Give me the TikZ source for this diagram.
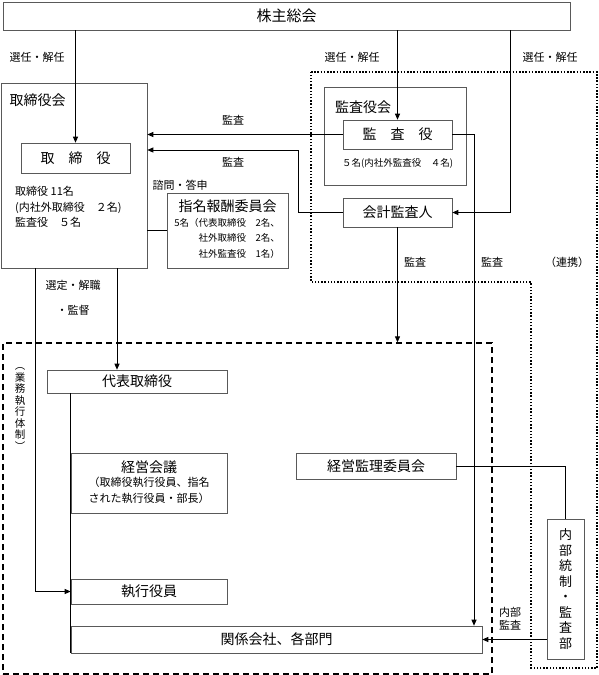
\documentclass[tikz,border=0pt]{standalone}
\usepackage{fontspec}
\setmainfont{Noto Sans CJK JP}
\usetikzlibrary{positioning,arrows.meta,calc}

\newcommand{\bigtxt}{\fontsize{14}{16}\selectfont}
\newcommand{\midtxt}{\fontsize{11}{15.5}\selectfont}
\newcommand{\smalltxt}{\fontsize{9.5}{15.5}\selectfont}

\begin{document}
\begin{tikzpicture}[x=1pt, y=-1pt,
    box/.style={rectangle, draw=black!65, line width=0.6pt, inner sep=0pt, align=center, font=\bigtxt},
    arrow/.style={->, >={Triangle[length=6pt,width=5pt]}, line width=0.9pt},
    line/.style={line width=0.9pt},
    lbl/.style={inner sep=0pt, font=\midtxt}]

    \useasboundingbox (0,0) rectangle (599,675);

    % Top
    \node[box, minimum width=567pt, minimum height=28pt, font=\fontsize{15}{17}\selectfont] (shareholders) at (286.5,16) {株主総会};

    % Board of directors
    \node[box, minimum width=146pt, minimum height=185pt] (board) at (74,175.5) {};
    \node[lbl, font=\bigtxt] (boardtitle) at (37.5,100) {取締役会};
    \node[box, minimum width=109pt, minimum height=30pt] (director) at (75.5,158) {取　締　役};
    \node[lbl, align=left, anchor=west] (boardinfo) at (15,207) {取締役 11名\\(内社外取締役　２名)\\監査役　５名};

    % Nomination committee
    \node[box, minimum width=121pt, minimum height=75pt] (nomination) at (227.5,230.5) {};
    \node[lbl, font=\bigtxt] (nomtitle) at (227.5,206) {指名報酬委員会};
    \node[lbl, font=\smalltxt, align=right, anchor=north east] (nominfo) at (280,218) {5名（代表取締役　2名、\\社外取締役　2名、\\社外監査役　1名）};

    % Audit side
    \node[box, minimum width=142pt, minimum height=98pt] (auditboard) at (395,136) {};
    \node[lbl, font=\bigtxt] (auditboardtitle) at (363,107) {監査役会};
    \node[box, minimum width=109pt, minimum height=29pt] (auditor) at (397.5,134.5) {監　査　役};
    \node[lbl, font=\smalltxt] (auditorinfo) at (397.5,163) {５名(内社外監査役　４名)};
    \node[box, minimum width=109pt, minimum height=29pt] (accountant) at (397.5,212.5) {会計監査人};

    % Execution frame
    \node[rectangle, draw, dash pattern=on 6pt off 4pt, line width=1.3pt, minimum width=489pt, minimum height=331pt] (execframe) at (247.5,508.5) {};
    \node[lbl, font=\fontsize{10.5}{11.5}\selectfont, align=center] (execlabel) at (20,409) {︵\\業\\務\\執\\行\\体\\制\\︶};

    \node[box, minimum width=180pt, minimum height=23pt] (ceo) at (137,381.5) {代表取締役};
    \node[box, minimum width=156pt, minimum height=60pt] (meeting) at (149,483) {};
    \node[lbl, font=\bigtxt] (meetingtitle) at (149,467) {経営会議};
    \node[lbl, align=center, anchor=north] (meetinginfo) at (149,477) {（取締役執行役員、指名\\された執行役員・部長）};
    \node[box, minimum width=160pt, minimum height=26pt] (supervision) at (376,466) {経営監理委員会};
    \node[box, minimum width=156pt, minimum height=25pt] (officers) at (149,591.5) {執行役員};
    \node[box, minimum width=411pt, minimum height=27pt] (affiliates) at (276.5,639.5) {関係会社、各部門};
    \node[box, minimum width=37pt, minimum height=140pt, font=\fontsize{13}{15.5}\selectfont] (internal) at (565.5,589) {内\\部\\統\\制\\・\\監\\査\\部};

    % Audit zone
    \draw[line width=1.5pt, dash pattern=on 1.5pt off 1.7pt] (311,72) -- (597,72) -- (597,668) -- (531,668) -- (531,282) -- (311,282) -- cycle;

    % Helper points
    \coordinate (elbowA) at (510,212.5);
    \coordinate (elbowB) at (298,150);
    \coordinate (elbowC) at (474,134.5);
    \coordinate (tapA) at (35,268);
    \coordinate (tapB) at (117,268);

    % Connectors
    \draw[arrow] (director |- shareholders.south) -- (director.north);
    \draw[arrow] (auditor |- shareholders.south) -- (auditor.north);
    \draw[arrow] (shareholders.south -| elbowA) -- (elbowA) -- (accountant.east);
    \draw[arrow] (auditor.west) -- (auditor.west -| board.east);
    \draw[arrow] (accountant.west) -| (elbowB) -- (elbowB -| board.east);
    \draw[line] (nomination.west -| board.east) -- (nomination.west);
    \draw[arrow] (auditor.east) -- (elbowC) -- (elbowC |- affiliates.north);
    \draw[arrow] (accountant.south) -- (accountant.south |- execframe.north);
    \draw[arrow] (tapB) -- (tapB |- ceo.north);
    \draw[arrow] (tapA) |- (officers.west);
    \draw[line] (ceo.south -| officers.west) -- (affiliates.south west);
    \draw[line] (supervision.east) -| (internal.north);
    \draw[arrow] (affiliates.east -| internal.west) -- (affiliates.east);

    % Labels
    \node[lbl] (elect1) at (37,57) {選任・解任};
    \node[lbl] (elect2) at (352,57) {選任・解任};
    \node[lbl] (elect3) at (550,57) {選任・解任};
    \node[lbl] (audit1) at (233,120) {監査};
    \node[lbl] (audit2) at (233,162) {監査};
    \node[lbl] (consult) at (180,185) {諮問・答申};
    \node[lbl] (audit3) at (415,262) {監査};
    \node[lbl] (audit4) at (492,262) {監査};
    \node[lbl] (linkage) at (567,262) {（連携）};
    \node[lbl] (appoint1) at (73,285) {選定・解職};
    \node[lbl] (appoint2) at (73,310) {・監督};
    \node[lbl] (inaudit1) at (510,612) {内部};
    \node[lbl] (inaudit2) at (510,625) {監査};
\end{tikzpicture}
\end{document}
